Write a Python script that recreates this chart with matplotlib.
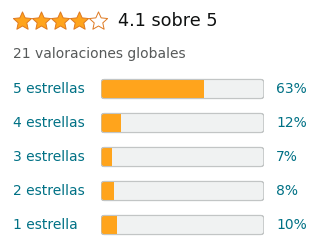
import numpy as np
import matplotlib
matplotlib.use("Agg")
import matplotlib.pyplot as plt
from matplotlib.patches import FancyBboxPatch
from matplotlib.path import Path
import matplotlib.transforms as mtransforms

# data
rating = 4.1
max_stars = 5
total_reviews = 21
labels = ["5 estrellas", "4 estrellas", "3 estrellas", "2 estrellas", "1 estrella"]
percents = [63, 12, 7, 8, 10]

ORANGE = "#FFA41C"
ORANGE_EDGE = "#DE7921"
TEAL = "#007185"
TRACK = "#F0F2F2"
TRACK_EDGE = "#C2C5C5"

W, H = 320, 252
fig = plt.figure(figsize=(W / 100, H / 100), dpi=100)
fig.patch.set_facecolor("white")

# overlay axes in pixel coordinates for header
ax0 = fig.add_axes([0, 0, 1, 1])
ax0.set_xlim(0, W)
ax0.set_ylim(H, 0)
ax0.axis("off")

# stars, rounded to the nearest half star
shown = round(rating * 2) / 2
star = Path.unit_regular_star(5, innerCircle=0.47)
star_x = 22 + 19 * np.arange(max_stars)
filled = np.arange(max_stars) < shown
ax0.scatter(star_x[filled], [21] * filled.sum(), marker=star, s=190,
            facecolor=ORANGE, edgecolor=ORANGE_EDGE, linewidth=0.7, zorder=3)
ax0.scatter(star_x[~filled], [21] * (~filled).sum(), marker=star, s=190,
            facecolor="white", edgecolor=ORANGE_EDGE, linewidth=0.7, zorder=3)

ax0.text(118, 21, f"{rating} sobre {max_stars}", fontsize=12.7, color="#0F1111",
         va="center", ha="left")
ax0.text(13, 54, f"{total_reviews} valoraciones globales", fontsize=10,
         color="#565959", va="center", ha="left")

# bar axes
left, right, top, bottom = 101, 264, 72, 242
ax = fig.add_axes([left / W, 1 - bottom / H, (right - left) / W, (bottom - top) / H])
ax.set_xlim(0, 100)
ax.set_ylim(len(labels) - 0.5, -0.5)
ax.axis("off")

bar_h = 0.56
px_x = (right - left) / 100.0
px_y = (bottom - top) / len(labels)
r = 3 / px_x
aspect = px_x / px_y

trans = mtransforms.blended_transform_factory(ax.transAxes, ax.transData)
for i, (lab, p) in enumerate(zip(labels, percents)):
    track = FancyBboxPatch((0, i - bar_h / 2), 100, bar_h,
                           boxstyle=f"round,pad=0,rounding_size={r}",
                           mutation_aspect=aspect, facecolor=TRACK,
                           edgecolor=TRACK_EDGE, linewidth=0.8, zorder=1)
    ax.add_patch(track)
    fill = ax.barh(i, p, height=bar_h, left=0, color=ORANGE, zorder=2)[0]
    fill.set_clip_path(track)
    edge = FancyBboxPatch((0, i - bar_h / 2), 100, bar_h,
                          boxstyle=f"round,pad=0,rounding_size={r}",
                          mutation_aspect=aspect, facecolor="none",
                          edgecolor=TRACK_EDGE, linewidth=0.8, zorder=3)
    ax.add_patch(edge)
    ax.text((13 - left) / (right - left), i, lab, transform=trans, fontsize=10,
            color=TEAL, va="center", ha="left")
    ax.text((276 - left) / (right - left), i, f"{p}%", transform=trans, fontsize=10,
            color=TEAL, va="center", ha="left")

fig.savefig("out.png", dpi=100, facecolor="white")
